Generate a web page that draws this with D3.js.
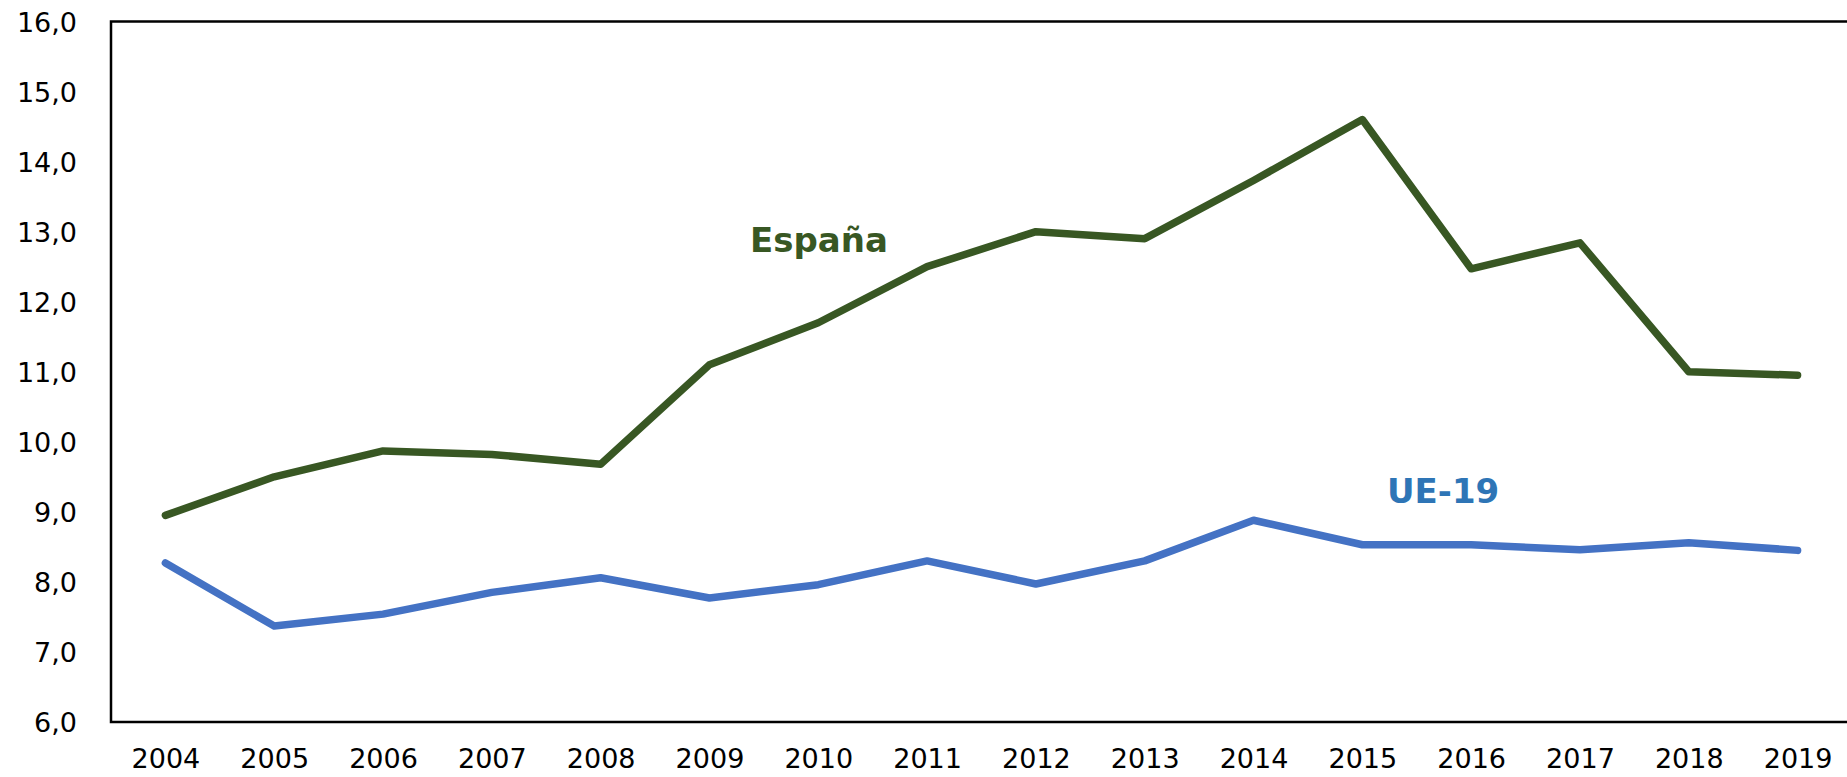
<!DOCTYPE html>
<html>
<head>
<meta charset="utf-8">
<script src="https://cdn.jsdelivr.net/npm/d3@7"></script>
<style>
  html, body { margin: 0; padding: 0; background: #fff; overflow: hidden; }
  text { font-family: "DejaVu Sans", sans-serif; }
</style>
</head>
<body>
<div id="viz"></div>
<script>
const years = ["2004","2005","2006","2007","2008","2009","2010","2011","2012","2013","2014","2015","2016","2017","2018","2019"];
const espana = [8.95, 9.5, 9.87, 9.82, 9.68, 11.1, 11.7, 12.5, 13.0, 12.9, 13.73, 14.6, 12.47, 12.84, 11.0, 10.95];
const ue19 = [8.27, 7.37, 7.54, 7.85, 8.06, 7.77, 7.96, 8.3, 7.97, 8.3, 8.88, 8.53, 8.53, 8.46, 8.56, 8.45];
const yTicks = [6, 7, 8, 9, 10, 11, 12, 13, 14, 15, 16];

const width = 1847, height = 777;
const plotLeft = 111, plotRight = 1852, plotTop = 21.5, plotBottom = 722;

const svg = d3.select("#viz")
    .append("svg")
    .attr("width", width)
    .attr("height", height);

const x = d3.scalePoint()
    .domain(years)
    .range([plotLeft, plotRight])
    .padding(0.5);

const y = d3.scaleLinear()
    .domain([6, 16])
    .range([plotBottom, plotTop]);

const fmt = d => d3.format(".1f")(d).replace(".", ",");

// eje y con etiquetas
const yAxis = svg.append("g")
    .attr("transform", `translate(${plotLeft},0)`)
    .call(d3.axisLeft(y).tickValues(yTicks).tickFormat(fmt).tickSize(0).tickPadding(34));
yAxis.select(".domain").remove();
yAxis.selectAll("text")
    .attr("font-size", "27px")
    .attr("fill", "#000")
    .attr("dy", "0.36em")
    .style("font-family", "DejaVu Sans");

// eje x con los años
const xAxis = svg.append("g")
    .attr("transform", `translate(0,${plotBottom})`)
    .call(d3.axisBottom(x).tickSize(0).tickPadding(27));
xAxis.select(".domain").remove();
xAxis.selectAll("text")
    .attr("font-size", "27px")
    .attr("fill", "#000")
    .style("font-family", "DejaVu Sans");

// marco del área de trazado
svg.append("path")
    .attr("d", `M${plotRight},${plotTop}H${plotLeft}V${plotBottom}H${plotRight}`)
    .attr("fill", "none")
    .attr("stroke", "#000")
    .attr("stroke-width", 2.5);

const line = d3.line()
    .x((d, i) => x(years[i]))
    .y(d => y(d));

svg.append("path")
    .datum(espana)
    .attr("d", line)
    .attr("fill", "none")
    .attr("stroke", "#385723")
    .attr("stroke-width", 7.5)
    .attr("stroke-linecap", "round")
    .attr("stroke-linejoin", "round");

svg.append("path")
    .datum(ue19)
    .attr("d", line)
    .attr("fill", "none")
    .attr("stroke", "#4472C4")
    .attr("stroke-width", 7.5)
    .attr("stroke-linecap", "round")
    .attr("stroke-linejoin", "round");

svg.append("text")
    .attr("x", 750)
    .attr("y", 252)
    .attr("font-size", "34px")
    .attr("font-weight", "bold")
    .attr("fill", "#385723")
    .text("España");

svg.append("text")
    .attr("x", 1387)
    .attr("y", 503)
    .attr("font-size", "34px")
    .attr("font-weight", "bold")
    .attr("fill", "#2E75B6")
    .text("UE-19");
</script>
</body>
</html>
